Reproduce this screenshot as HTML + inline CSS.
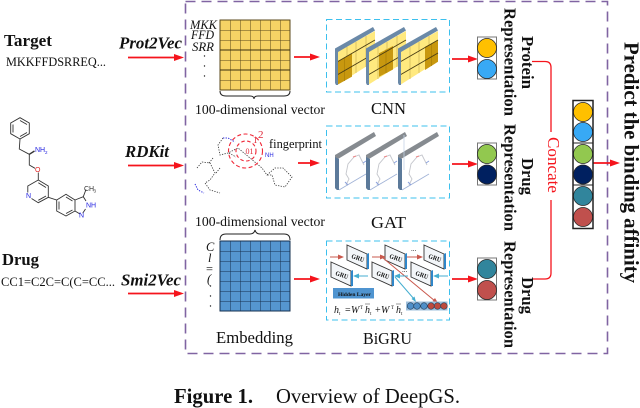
<!DOCTYPE html>
<html><head><meta charset="utf-8"><style>
html,body{margin:0;padding:0;background:#fff;width:640px;height:408px;overflow:hidden}
svg{display:block}
text{font-family:"Liberation Serif",serif;fill:#111}
.b{font-weight:bold}.i{font-style:italic}.bi{font-weight:bold;font-style:italic}
.s{font-family:"Liberation Sans",sans-serif}
</style></head><body>
<svg width="640" height="408" viewBox="0 0 640 408" xmlns="http://www.w3.org/2000/svg">
<defs>
<g id="ah"><path d="M0 0 L-10 -3.5 L-10 3.5 Z" fill="#f5141c"/></g>
<pattern id="pY" x="220" y="20" width="10" height="10" patternUnits="userSpaceOnUse"><rect width="10" height="10" fill="#f6d365"/><path d="M0 0H10M0 0V10" stroke="#5b4a1c" stroke-width="1"/></pattern>
<pattern id="pB" x="220" y="241" width="10" height="10" patternUnits="userSpaceOnUse"><rect width="10" height="10" fill="#5596d0"/><path d="M0 0H10M0 0V10" stroke="#16304f" stroke-width="1"/></pattern>
<g id="cnn">
<path d="M2 25 L40 4 L40 34 L2 58 Z" fill="#ffe97f"/>
<path d="M12 20V52M21 15V46M31 9V40" stroke="#d8c060" stroke-width=".9"/>
</g>
<g id="cnnb">
<path d="M2 35L40 13M2 48L40 26" stroke="#4a3d14" stroke-width=".9"/>
<path d="M0 21.500 L38 0 L40 3.500 L3 25 L3 58 L1 58 L0 56Z" fill="#6a89a8"/>
</g>
<g id="gat">
<path d="M3 25 L38 4 L38 37 L3 58 Z" fill="#fff"/>
<path d="M4 58L31 42" stroke="#a0b2d6" stroke-width=".8"/>
<path d="M29 33L24 23L19 25L13 32L11 42L14 47L11 53" fill="none" stroke="#c4c6cc" stroke-width=".9"/>
<path d="M18 25l3-1" stroke="#e88" stroke-width="1"/>
<path d="M10 50l3 3M28 31l3-2" stroke="#8aa0dd" stroke-width="1"/>
<path d="M0 23 L39 0 L41 4 L3 27 L4 58 L2 58 L0 56Z" fill="#868b90"/>
<path d="M0 25 L4 27 L4 58 L2 58 L0 56Z" fill="#5c7a9a"/>
</g>
<g id="gru">
<path d="M0 0 L20 9 L20 24 L0 15 Z" fill="#f3f6f9" stroke="#333" stroke-width=".9"/>
<path d="M20 9 L22 8 L22 24 L20 24 Z" fill="#2f86c9"/>
<text x="4" y="13" font-size="6.500" font-weight="bold" transform="rotate(18 4 13)" textLength="13" lengthAdjust="spacingAndGlyphs">GRU</text>
</g>
</defs>

<!-- outer dashed box -->
<rect x="185.500" y="1.500" width="422" height="352" fill="none" stroke="#8064a2" stroke-width="1.600" stroke-dasharray="10 6"/>

<!-- left text -->
<text x="4" y="46" class="b" font-size="16.500" textLength="48" lengthAdjust="spacingAndGlyphs">Target</text>
<text x="6" y="66" font-size="12.300" textLength="100" lengthAdjust="spacingAndGlyphs">MKKFFDSRREQ...</text>
<text x="119" y="48.500" class="bi" font-size="16.500" textLength="63" lengthAdjust="spacingAndGlyphs">Prot2Vec</text>
<text x="125" y="157" class="bi" font-size="16.500" textLength="44" lengthAdjust="spacingAndGlyphs">RDKit</text>
<text x="2" y="265" class="b" font-size="16.500" textLength="37" lengthAdjust="spacingAndGlyphs">Drug</text>
<text x="1" y="286" font-size="12.500" textLength="114" lengthAdjust="spacingAndGlyphs">CC1=C2C=C(C=CC...</text>
<text x="121" y="285.500" class="bi" font-size="16.500" textLength="60" lengthAdjust="spacingAndGlyphs">Smi2Vec</text>

<!-- red arrows -->
<g stroke="#f5141c" stroke-width="1.800" fill="none">
<path d="M128 57.500H175M128 165.500H175M128 293.500H175M294 57H312M298 163H312M294 279H312M452 59H469M452 164H469M452 279H469M593 163H610"/>
<path d="M532 61.500H545Q551 61.500 551 67.500V132M551 200V273Q551 279 545 279H532" stroke-width="1.300"/>
</g>
<use href="#ah" x="184" y="57.500"/><use href="#ah" x="184" y="165.500"/><use href="#ah" x="184" y="293.500"/>
<use href="#ah" x="320" y="57"/><use href="#ah" x="320" y="163"/><use href="#ah" x="320" y="279"/>
<use href="#ah" x="478" y="59"/><use href="#ah" x="478" y="164"/><use href="#ah" x="478" y="279"/>
<use href="#ah" x="620" y="163"/>

<!-- molecule -->
<g fill="none" stroke="#333" stroke-width=".9">
<path d="M20 117.700L29.300 123V133.700L20 139L10.700 133.700V123Z"/>
<path d="M20 120.500L27 124.500M27 132.500L20 136.500M13 132.500V124.500"/>
<path d="M20 139L19.300 149L29.300 154.300V165L35 168.300"/>
<path d="M29.300 154.300L34.500 151" stroke-width="1.400"/>
<path d="M38.300 172.500V180L48.300 186V197.300L38.300 202.700L31.500 198.500M27.800 192.500V186L38.300 180"/>
<path d="M38.300 182.800L46 187.500M46 196L38.300 200.300"/>
<path d="M48.300 197.300L56.700 200L66 194.300L75 200V211L66 216L56.700 211V200"/>
<path d="M66 197L72.500 201M72.500 210L66 213.500M59 209.500V201.500"/>
<path d="M75 200L83.300 196.700L86 201M85.500 209L82.700 213.300M80 214L75 211M83.300 196.700L86 189.500"/>
</g>
<text x="35" y="152" font-size="7" class="s" style="fill:#2323e0">NH</text>
<text x="45" y="154" font-size="4.500" class="s" style="fill:#2323e0">2</text>
<text x="35" y="172" font-size="7" class="s" style="fill:#e02020">O</text>
<text x="26" y="198" font-size="7" class="s" style="fill:#2323e0">N</text>
<text x="86" y="207.700" font-size="7" class="s" style="fill:#2323e0">NH</text>
<text x="79" y="217.500" font-size="7" class="s" style="fill:#2323e0">N</text>
<text x="84" y="191" font-size="7" class="s" style="fill:#333">CH</text>
<text x="93.500" y="192.500" font-size="4.500" class="s" style="fill:#333">3</text>

<!-- yellow grid -->
<rect x="220" y="20" width="70" height="70" fill="url(#pY)" stroke="#5b4a1c"/>
<path d="M220 50H290M220 70H290" stroke="#3a2f10" stroke-width="1"/>
<path d="M220 91Q220 96 226 96H250Q254 96 254 99Q254 96 258 96H284Q290 96 290 91" fill="none" stroke="#222"/>
<text x="190" y="29" class="i" font-size="12.400" textLength="27" lengthAdjust="spacingAndGlyphs">MKK</text>
<text x="191" y="39" class="i" font-size="12.400" textLength="23" lengthAdjust="spacingAndGlyphs">FFD</text>
<text x="192" y="51" class="i" font-size="12.400" textLength="22" lengthAdjust="spacingAndGlyphs">SRR</text>
<circle cx="204.500" cy="56" r=".7" fill="#222"/><circle cx="204.500" cy="66" r=".7" fill="#222"/><circle cx="204.500" cy="76" r=".7" fill="#222"/>
<text x="195" y="114" font-size="13.400" textLength="130" lengthAdjust="spacingAndGlyphs">100-dimensional vector</text>

<!-- fingerprint -->
<g fill="none" stroke="#333" stroke-width=".8" stroke-dasharray="1.300 1.300">
<path d="M223 138L218 145L220 155L228 153L238 148L262 168L267 175L275 168L283 168L292 177L285 187L275 185L272 175L267 175"/>
<path d="M197 168L202 162L210 163L215 173L210 180L205 183L210 190L220 193"/>
<path d="M209 163L213 158M216 173L220 168M229 153L236 157"/>
</g>
<path d="M195 184L198 190L204 193M223 138L228 138L235 142" fill="none" stroke="#2a2ae0" stroke-dasharray="1.300 1.300"/>
<circle cx="245.500" cy="151" r="17" fill="none" stroke="#f02838" stroke-dasharray="4 2.500" stroke-width="1.100"/>
<circle cx="246" cy="151" r="10" fill="none" stroke="#f02838" stroke-dasharray="3.500 2.500" stroke-width="1.100"/>
<text x="245.500" y="154" font-size="8" style="fill:#e02838">01</text>
<text x="253" y="143" font-size="9" style="fill:#e02838">1</text>
<text x="258" y="138" font-size="11" style="fill:#e02838">2</text>
<text x="265" y="157" font-size="6" class="s" style="fill:#2a2ae0">NH</text>
<text x="269" y="148" font-size="12.400" textLength="53" lengthAdjust="spacingAndGlyphs">fingerprint</text>

<!-- blue grid -->
<text x="195" y="226" font-size="13.400" textLength="130" lengthAdjust="spacingAndGlyphs">100-dimensional vector</text>
<path d="M220 240Q220 234 226 234H250Q254 234 255 230Q256 234 260 234H284Q290 234 290 240" fill="none" stroke="#222"/>
<rect x="220" y="241" width="70" height="70" fill="url(#pB)" stroke="#16304f"/>
<text x="206" y="251" class="i" font-size="12.400">C</text>
<text x="208" y="262" class="i" font-size="12.400">l</text>
<text x="206" y="273" font-size="12.400">=</text>
<text x="207" y="283" class="i" font-size="12.400">(</text>
<circle cx="210.500" cy="286" r=".7" fill="#222"/><circle cx="210.500" cy="296" r=".7" fill="#222"/><circle cx="210.500" cy="306" r=".7" fill="#222"/>
<text x="216" y="343" font-size="16.500" textLength="77" lengthAdjust="spacingAndGlyphs">Embedding</text>

<!-- cyan boxes -->
<g fill="none" stroke="#3cc0ee" stroke-width="1" stroke-dasharray="6 3.500">
<rect x="326.500" y="19.500" width="123" height="72.500"/>
<rect x="326.500" y="126" width="123" height="72"/>
<rect x="326.500" y="241" width="123" height="79"/>
</g>

<!-- CNN -->
<use href="#cnn" x="335" y="27"/>
<path d="M337 62L352 53.600V76.600L337 85Z" fill="#c8980f"/>
<path d="M344.500 58V81" stroke="#a87e08" stroke-width=".7"/>
<use href="#cnnb" x="335" y="27"/>
<use href="#cnn" x="366" y="27"/>
<path d="M379 53.300L393 46V69.500L379 76.800Z" fill="#c8980f"/>
<path d="M386 49.500V73" stroke="#a87e08" stroke-width=".7"/>
<use href="#cnnb" x="366" y="27"/>
<use href="#cnn" x="398" y="27"/>
<path d="M425 46.700L438 40V61.700L425 70Z" fill="#c8980f"/>
<path d="M431.500 43.500V66" stroke="#a87e08" stroke-width=".7"/>
<use href="#cnnb" x="398" y="27"/>
<text x="371" y="114" font-size="16.500" textLength="35" lengthAdjust="spacingAndGlyphs">CNN</text>

<!-- GAT -->
<use href="#gat" x="335" y="132"/><use href="#gat" x="366" y="132"/><use href="#gat" x="398" y="132"/>
<path d="M404 135V170" stroke="#c4d2e6" stroke-width=".8"/>
<text x="371" y="228" font-size="16.500" textLength="35" lengthAdjust="spacingAndGlyphs">GAT</text>

<!-- BiGRU -->
<use href="#gru" x="347" y="245"/><use href="#gru" x="385" y="245"/><use href="#gru" x="424" y="245"/>
<use href="#gru" x="331" y="262"/><use href="#gru" x="372" y="262"/><use href="#gru" x="411" y="262"/>
<text x="411" y="251" font-size="7">...</text><text x="402" y="272" font-size="7">...</text>
<g stroke="#c9584c" stroke-width="1" fill="none"><path d="M330 257H340M372 257H382M407 257H419M383 258L435 301"/></g>
<g stroke="#45aed0" stroke-width="1" fill="none"><path d="M356 276H368M398 276H408M436 276H448M395 277L414 299"/></g>
<path d="M344 257l-6-2.500v5ZM386 257l-6-2.500v5ZM423 257l-6-2.500v5ZM438 303l-5.500-2 2.500-3Z" fill="#c9584c"/>
<path d="M353 276l6-2.500v5ZM394 276l6-2.500v5ZM433 276l6-2.500v5ZM416 302l-4.500-3 3-2.500Z" fill="#45aed0"/>
<rect x="333" y="288" width="41" height="10.500" fill="#4f94d0"/>
<text x="338" y="296" font-size="5.500" font-weight="bold">Hidden Layer</text>
<text x="334" y="313" class="i" font-size="10">h</text><text x="339" y="315" font-size="5">t</text>
<text x="345" y="313" font-size="10">=</text><text x="351" y="313" class="i" font-size="10">W</text>
<text x="360" y="309" font-size="5">T</text>
<text x="365" y="313" class="i" font-size="10">h</text><text x="370" y="315" font-size="5">t</text>
<text x="375" y="313" font-size="10">+</text><text x="381" y="313" class="i" font-size="10">W</text>
<text x="391" y="309" font-size="5">T</text>
<text x="396" y="313" class="i" font-size="10">h</text><text x="401" y="315" font-size="5">t</text>
<path d="M365 304H370M396 304H401" stroke="#333" stroke-width=".6"/>
<rect x="406" y="301.500" width="41.500" height="9" fill="#9fc0dc"/>
<g stroke="#24405c" stroke-width=".6">
<circle cx="410.500" cy="306" r="3.300" fill="#4f8fc8"/><circle cx="417" cy="306" r="3.300" fill="#4f8fc8"/><circle cx="424" cy="306" r="3.300" fill="#4f8fc8"/>
<circle cx="431" cy="306" r="3.300" fill="#bd4a3e"/><circle cx="437.500" cy="306" r="3.300" fill="#bd4a3e"/><circle cx="444" cy="306" r="3.300" fill="#bd4a3e"/>
</g>
<text x="363" y="344" font-size="16.500" textLength="49" lengthAdjust="spacingAndGlyphs">BiGRU</text>

<!-- rep stacks -->
<g stroke="#777" stroke-width="1" fill="none">
<rect x="477.500" y="37" width="19" height="42"/>
<rect x="477.500" y="143" width="19" height="42"/>
<rect x="477.500" y="258" width="19" height="42"/>
</g>
<g stroke="#222" stroke-width=".7">
<circle cx="487" cy="48" r="9.500" fill="#ffc000"/><circle cx="487" cy="69" r="9.500" fill="#38a9f5"/>
<circle cx="487" cy="154" r="9.500" fill="#92c84f"/><circle cx="487" cy="174.500" r="9.500" fill="#002060"/>
<circle cx="487" cy="269" r="9.500" fill="#31859c"/><circle cx="487" cy="290" r="9.500" fill="#c0504d"/>
</g>

<!-- final stack -->
<rect x="573" y="100.500" width="20" height="128" fill="none" stroke="#222" stroke-width="1.500"/>
<path d="M573 143H593M573 185H593" stroke="#222"/>
<g stroke="#222" stroke-width=".7">
<circle cx="583" cy="112" r="9.500" fill="#ffc000"/><circle cx="583" cy="132" r="9.500" fill="#38a9f5"/>
<circle cx="583" cy="154" r="9.500" fill="#92c84f"/><circle cx="583" cy="174.500" r="9.500" fill="#002060"/>
<circle cx="583" cy="196" r="9.500" fill="#31859c"/><circle cx="583" cy="217" r="9.500" fill="#c0504d"/>
</g>

<!-- rotated text -->
<text transform="translate(504.500 8) rotate(90)" class="b" font-size="16.500" textLength="108" lengthAdjust="spacingAndGlyphs">Representation</text>
<text transform="translate(522 36) rotate(90)" class="b" font-size="16.500" textLength="53" lengthAdjust="spacingAndGlyphs">Protein</text>
<text transform="translate(504.500 124) rotate(90)" class="b" font-size="16.500" textLength="107" lengthAdjust="spacingAndGlyphs">Representation</text>
<text transform="translate(522 158) rotate(90)" class="b" font-size="16.500" textLength="37" lengthAdjust="spacingAndGlyphs">Drug</text>
<text transform="translate(504.500 241) rotate(90)" class="b" font-size="16.500" textLength="107" lengthAdjust="spacingAndGlyphs">Representation</text>
<text transform="translate(522 277) rotate(90)" class="b" font-size="16.500" textLength="37" lengthAdjust="spacingAndGlyphs">Drug</text>
<text transform="translate(624.500 42) rotate(90)" class="b" font-size="20.800" textLength="241" lengthAdjust="spacingAndGlyphs">Predict the binding affinity</text>
<text transform="translate(548 137) rotate(90)" font-size="17" style="fill:#f5141c" textLength="56" lengthAdjust="spacingAndGlyphs">Concate</text>

<!-- caption -->
<text x="174" y="403" class="b" font-size="20.600" textLength="79" lengthAdjust="spacingAndGlyphs">Figure 1.</text>
<text x="276" y="403" font-size="20.600" textLength="184" lengthAdjust="spacingAndGlyphs">Overview of DeepGS.</text>
</svg>
</body></html>
